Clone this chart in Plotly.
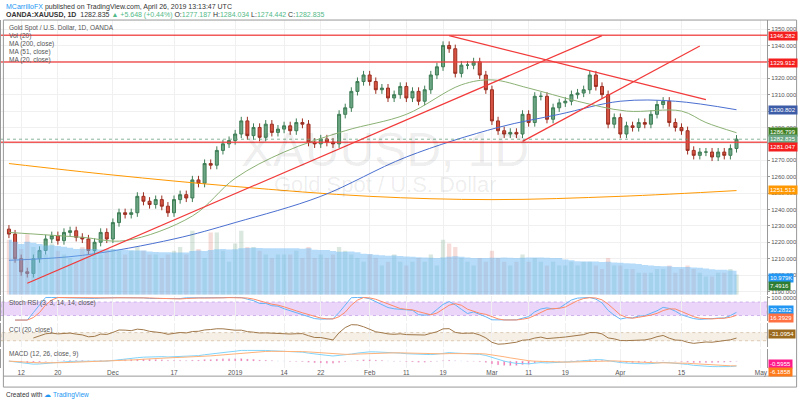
import pandas as pd
import numpy as np
import plotly.graph_objects as go

# ---------------- data ----------------
dates = [d for d in pd.bdate_range("2018-11-08", "2019-04-26")
         if d not in (pd.Timestamp("2018-12-25"), pd.Timestamp("2019-01-01"))]

closes = [1225, 1210,
          1202, 1201, 1210, 1215, 1222,
          1224, 1221, 1226, 1227, 1223,
          1222, 1215, 1220, 1226, 1222,
          1232, 1238, 1237, 1238, 1248,
          1245, 1243, 1246, 1242, 1238,
          1246, 1249, 1247, 1258, 1256,
          1268, 1267, 1276, 1280,
          1282,
          1286, 1294, 1285,
          1290, 1284, 1292, 1287, 1289,
          1291, 1288, 1293, 1292, 1281,
          1280, 1283, 1281, 1280, 1298,
          1302, 1312, 1318, 1322,
          1318,
          1313, 1314, 1308, 1310, 1315,
          1308, 1312, 1306, 1313, 1322,
          1327, 1340, 1338, 1323, 1328,
          1328, 1330, 1322, 1313,
          1294,
          1288, 1286, 1287, 1286, 1298,
          1293, 1309, 1309, 1295, 1302,
          1305, 1306, 1310, 1311, 1313,
          1322, 1315, 1310, 1292, 1296,
          1286, 1291, 1290, 1293, 1292,
          1298, 1304, 1306, 1293, 1290,
          1288, 1276, 1273, 1275, 1275,
          1272, 1275, 1273, 1277.187, 1282.835]
first_open = 1228

volumes = [30, 28, 25, 33, 26, 24, 22, 28, 24, 22, 20, 18, 26, 24, 24, 22, 25,
           25, 24, 22, 24, 26, 24, 22, 22, 20, 22, 24, 26, 22, 35, 25, 20, 34, 34, 24, 18,
           28, 35, 26, 26, 24, 22, 20, 22, 22, 22, 24, 20, 26, 20, 22, 20, 22, 26, 24, 22, 20, 18,
           22, 20, 16, 18, 22, 18, 16, 18, 20, 18, 22, 16, 30, 28, 26, 20, 18, 16, 20, 18,
           24, 20, 18, 16, 18, 22, 18, 20, 18, 16, 18, 16, 16, 18, 16, 18, 18, 16, 14, 20, 16,
           16, 14, 14, 12, 12, 12, 14, 14, 16, 12, 14, 16, 14, 12, 10, 10, 12, 12, 14, 11]

# moving averages (date, value)
ma200_pts = [("2018-11-08", 1268), ("2018-12-03", 1261), ("2019-01-02", 1254),
             ("2019-02-01", 1248), ("2019-03-01", 1246), ("2019-04-01", 1248),
             ("2019-04-26", 1251.513)]
ma51_pts = [("2018-11-08", 1209), ("2018-11-26", 1212), ("2018-12-17", 1222),
            ("2019-01-02", 1232), ("2019-01-22", 1248), ("2019-02-11", 1272),
            ("2019-03-04", 1290), ("2019-03-18", 1298), ("2019-04-01", 1306),
            ("2019-04-12", 1306), ("2019-04-26", 1300.802)]
ma20_pts = [("2018-11-08", 1226), ("2018-11-26", 1223), ("2018-12-05", 1221),
            ("2018-12-20", 1236), ("2019-01-02", 1259), ("2019-01-14", 1275),
            ("2019-01-28", 1288), ("2019-02-11", 1298), ("2019-02-22", 1316),
            ("2019-03-01", 1319), ("2019-03-11", 1314), ("2019-03-21", 1306),
            ("2019-04-02", 1300), ("2019-04-15", 1300), ("2019-04-19", 1293),
            ("2019-04-26", 1286.799)]

h_levels = [1346.282, 1329.912, 1281.047]
trend_lines = [("2018-11-13", 1195, "2019-03-27", 1346),
               ("2019-03-08", 1281.5, "2019-04-18", 1339.7),
               ("2019-02-20", 1346, "2019-04-19", 1307)]

tick_dates = ["2018-11-12", "2018-11-20", "2018-12-03", "2018-12-17", "2019-01-02",
              "2019-01-14", "2019-01-22", "2019-02-01", "2019-02-11", "2019-02-19",
              "2019-03-01", "2019-03-11", "2019-03-19", "2019-04-01", "2019-04-15"]
tick_labels = ["12", "20", "Dec", "17", "2019", "14", "22", "Feb", "11", "19",
               "Mar", "11", "19", "Apr", "15", "May"]

# ---------------- derived ----------------
n = len(closes)
idx_of = {d: i for i, d in enumerate(dates)}
def xi(s):
    return idx_of[pd.Timestamp(s)]

c = pd.Series(closes, dtype=float)
o = pd.Series([first_open] + closes[:-1], dtype=float)
h = np.maximum(o, c) + 2.5
l = np.minimum(o, c) - 2.5
X = list(range(n))

d = c.diff()
up = d.clip(lower=0).ewm(alpha=1/14, adjust=False).mean()
dn = (-d.clip(upper=0)).ewm(alpha=1/14, adjust=False).mean()
rsi = 100 - 100 / (1 + up / dn.replace(0, 1e-9))
mn = rsi.rolling(14, min_periods=1).min(); mx = rsi.rolling(14, min_periods=1).max()
st = ((rsi - mn) / (mx - mn).replace(0, 1) * 100)
K = st.rolling(3, min_periods=1).mean(); D = K.rolling(3, min_periods=1).mean()
tp = (h + l + c) / 3
sma = tp.rolling(20, min_periods=5).mean()
md = tp.rolling(20, min_periods=5).apply(lambda v: np.mean(np.abs(v - v.mean())))
cci = (tp - sma) / (0.015 * md)
macd = c.ewm(span=12, adjust=False).mean() - c.ewm(span=26, adjust=False).mean()
sig = macd.ewm(span=9, adjust=False).mean()
hist = macd - sig
vol = pd.Series(volumes, dtype=float)
volma = vol.rolling(20, min_periods=1).mean()

# ---------------- figure ----------------
UP, DN = "#6ba583", "#d75442"
fig = go.Figure()
vcol = ["rgba(107,165,131,0.25)" if c[i] >= o[i] else "rgba(215,84,66,0.2)" for i in range(n)]
fig.add_trace(go.Scatter(x=X, y=volma, yaxis="y5", fill="tozeroy", mode="lines",
                         line=dict(width=0, shape="hvh"), fillcolor="rgba(110,185,245,0.5)"))
fig.add_trace(go.Bar(x=X, y=vol, yaxis="y5", marker_color=vcol, marker_line_width=0))
for pts, col in [(ma200_pts, "#ff9800"), (ma51_pts, "#4a6fd0"), (ma20_pts, "#8bb174")]:
    fig.add_trace(go.Scatter(x=[xi(p[0]) for p in pts], y=[p[1] for p in pts], mode="lines",
                             line=dict(color=col, width=1, shape="spline")))
fig.add_trace(go.Candlestick(x=X, open=o, high=h, low=l, close=c,
                             increasing=dict(line=dict(color="#3e7d55", width=1), fillcolor=UP),
                             decreasing=dict(line=dict(color="#9b2f22", width=1), fillcolor=DN),
                             whiskerwidth=0))
fig.add_trace(go.Scatter(x=X, y=K, xaxis="x2", yaxis="y2", mode="lines", line=dict(color="#64b5f6", width=1)))
fig.add_trace(go.Scatter(x=X, y=D, xaxis="x2", yaxis="y2", mode="lines", line=dict(color="#ff8a65", width=1)))
fig.add_trace(go.Scatter(x=X, y=cci, xaxis="x3", yaxis="y3", mode="lines", line=dict(color="#a0784a", width=1)))
fig.add_trace(go.Bar(x=X, y=hist, xaxis="x4", yaxis="y4", marker_color="#ff4f9a", width=0.25))
fig.add_trace(go.Scatter(x=X, y=macd, xaxis="x4", yaxis="y4", mode="lines", line=dict(color="#81d4fa", width=1)))
fig.add_trace(go.Scatter(x=X, y=sig, xaxis="x4", yaxis="y4", mode="lines", line=dict(color="#ffb27a", width=1)))

XR = [-1.3, 124]
XE = 768 / 800
XD = [0, XE]
grid = "#f0f0f0"
tv = [xi(t) for t in tick_dates] + [n + 3]
ax = dict(range=XR, domain=XD, showgrid=True, gridcolor=grid, tickvals=tv,
          showticklabels=False, zeroline=False, showline=False, fixedrange=True)
ya = dict(side="right", showgrid=True, gridcolor=grid, zeroline=False, ticks="outside",
          ticklen=2, tickcolor="#999", tickfont=dict(size=6, color="#555"),
          showline=True, linecolor="#999", mirror=True, anchor="x")
fig.update_layout(
    width=800, height=403, margin=dict(l=0, r=0, t=0, b=0), showlegend=False,
    paper_bgcolor="white", plot_bgcolor="white", bargap=0.3,
    font=dict(family="Liberation Sans, Arial", color="#555"),
    xaxis=dict(ax, anchor="y", rangeslider=dict(visible=False)),
    xaxis2=dict(ax, anchor="y2", matches="x"),
    xaxis3=dict(ax, anchor="y3", matches="x"),
    xaxis4=dict(ax, anchor="y4", matches="x", showticklabels=True, ticktext=tick_labels,
                tickfont=dict(size=6.5, color="#555")),
    yaxis=dict(ya, domain=[0.27, 0.955], range=[1188, 1355.5], tickvals=list(range(1190, 1351, 10)),
               ticktext=[f"{v}.000" for v in range(1190, 1351, 10)]),
    yaxis5=dict(overlaying="y", range=[0, 150], visible=False, anchor="x"),
    yaxis2=dict(ya, anchor="x2", domain=[0.204, 0.266], range=[-5, 105], tickvals=[100],
                ticktext=["100.0000"], showgrid=False),
    yaxis3=dict(ya, anchor="x3", domain=[0.139, 0.199], range=[-260, 330], tickvals=[], showgrid=False),
    yaxis4=dict(ya, anchor="x4", domain=[0.088, 0.134], tickvals=[], showgrid=False),
)
shapes = []
for lv in h_levels:
    shapes.append(dict(type="line", xref="x", yref="y", x0=XR[0], x1=XR[1], y0=lv, y1=lv,
                       line=dict(color="rgba(240,60,60,0.85)", width=1.5)))
shapes.append(dict(type="line", xref="x", yref="y", x0=XR[0], x1=XR[1], y0=1282.835, y1=1282.835,
                   line=dict(color="#6ba583", width=0.8, dash="dot")))
for a, b, cc, dd in trend_lines:
    shapes.append(dict(type="line", xref="x", yref="y", x0=xi(a), y0=b, x1=xi(cc), y1=dd,
                       line=dict(color="#f23a3a", width=1.2)))
shapes.append(dict(type="rect", xref="x2", yref="y2", x0=XR[0], x1=XR[1], y0=20, y1=80,
                   fillcolor="rgba(190,120,240,0.3)", line=dict(width=0.6, color="#b48de0", dash="dot"),
                   layer="below"))
shapes.append(dict(type="rect", xref="x3", yref="y3", x0=XR[0], x1=XR[1], y0=-100, y1=100,
                   fillcolor="rgba(215,190,150,0.25)", line=dict(width=0.6, color="#c8b090", dash="dot"),
                   layer="below"))
shapes.append(dict(type="rect", xref="paper", yref="paper", x0=0.003, x1=0.997, y0=1 - 387 / 403, y1=0.955,
                   line=dict(color="#999", width=1)))
shapes.append(dict(type="line", xref="paper", yref="paper", x0=0.003, x1=0.997, y0=1 - 376 / 403,
                   y1=1 - 376 / 403, line=dict(color="#999", width=1)))
fig.update_layout(shapes=shapes)

ann = []
def t(x, y, s, size=7, color="#555", **k):
    ann.append(dict(xref="paper", yref="paper", x=x / 800, y=1 - y / 403, text=s, showarrow=False,
                    xanchor=k.pop("xanchor", "left"), yanchor="middle", font=dict(size=size, color=color), **k))
t(3, 5, "<span style='color:#2196f3'>MCarrilloFX</span> published on TradingView.com, April 26, 2019 13:13:47 UTC", 7, "#333")
t(3, 13, "<b>OANDA:XAUUSD, 1D</b>  1282.835 <span style='color:#53b987'>▲ +5.648 (+0.44%)</span> "
  "O:<span style='color:#53b987'>1277.187</span> H:<span style='color:#53b987'>1284.034</span> "
  "L:<span style='color:#53b987'>1274.442</span> C:<span style='color:#53b987'>1282.835</span>", 7, "#333")
for i, s in enumerate(["Gold Spot / U.S. Dollar, 1D, OANDA", "Vol (20)", "MA (200, close)",
                       "MA (51, close)", "MA (20, close)"]):
    t(6, 26 + i * 8, s, 6.5)
t(6, 303, "Stoch RSI (3, 3, 14, 14, close)", 6.5)
t(6, 330, "CCI (20, close)", 6.5)
t(6, 354, "MACD (12, 26, close, 9)", 6.5)
t(385, 148, "XAUUSD, 1D", 48, "rgba(0,0,0,0.07)", xanchor="center")
t(385, 183, "Gold Spot / U.S. Dollar", 22, "rgba(0,0,0,0.08)", xanchor="center")
t(3, 395, "Created with <span style='color:#2196f3'>☁ TradingView</span>", 6.5, "#333")
for y, s, bg in [(34, "1346.282", "#f41e1e"), (61, "1329.912", "#f41e1e"), (109, "1300.802", "#3d5ca8"),
                 (131, "1286.799", "#3f7f1f"), (138, "1282.835", "#6ba583"), (146, "1281.047", "#f41e1e"),
                 (189, "1251.513", "#ff9800"), (277, "10.979K", "#2196f3"), (285, "7.4916", "#2e7d32"),
                 (310, "30.2832", "#2196f3"), (318, "16.3929", "#ff7043"), (334, "-31.0954", "#9c6a1e"),
                 (364, "-0.5955", "#ff1a8c"), (372, "-6.1858", "#ff7a1a")]:
    t(769, y, s, 6, "white", bgcolor=bg, borderpad=1)
fig.update_layout(annotations=ann)
fig.write_html("out.html", config={"displayModeBar": False})

with open("out.html", encoding="utf-8") as f:
    html = f.read()
html = html.replace("<head>", "<head><style>html,body{margin:0;padding:0;overflow:hidden}</style>", 1)
with open("out.html", "w", encoding="utf-8") as f:
    f.write(html)
